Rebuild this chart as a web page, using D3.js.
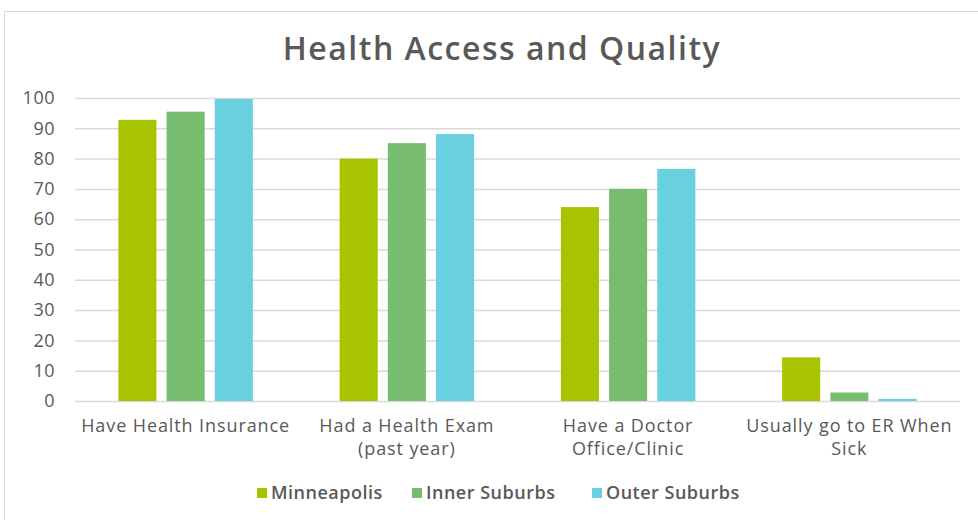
<!DOCTYPE html>
<html>
<head>
<meta charset="utf-8">
<script src="https://cdn.jsdelivr.net/npm/d3@7"></script>
<style>
  body { margin: 0; background: #fff; }
  text { font-family: "Open Sans", sans-serif; fill: #595959; }
</style>
</head>
<body>
<div id="chart"></div>
<script>
// values
const categories = [["Have Health Insurance"], ["Had a Health Exam", "(past year)"], ["Have a Doctor", "Office/Clinic"], ["Usually go to ER When", "Sick"]];
const seriesNames = ["Minneapolis", "Inner Suburbs", "Outer Suburbs"];
const minneapolis = [92.8, 80.0, 64.0, 14.4];
const innerSuburbs = [95.5, 85.1, 70.0, 2.8];
const outerSuburbs = [99.7, 88.1, 76.6, 0.7];
const colors = ["#a8c400", "#78bd6f", "#69d0e0"];
const yTicks = [0, 10, 20, 30, 40, 50, 60, 70, 80, 90, 100];

const width = 978, height = 520;
const margin = {top: 98, right: 18, bottom: 119, left: 75};
const series = [minneapolis, innerSuburbs, outerSuburbs];

const svg = d3.select("#chart").append("svg")
    .attr("width", width)
    .attr("height", height);

// chart frame
svg.append("rect")
    .attr("x", 4.5).attr("y", 11.5)
    .attr("width", width + 10).attr("height", height)
    .attr("fill", "none")
    .attr("stroke", "#d9d9d9");

svg.append("text")
    .attr("x", 502).attr("y", 60)
    .attr("text-anchor", "middle")
    .style("font-size", "32px")
    .style("font-weight", 600)
    .style("letter-spacing", "1.5px")
    .text("Health Access and Quality");

const x0 = d3.scaleBand()
    .domain(d3.range(categories.length))
    .range([margin.left, width - margin.right]);

const x1 = d3.scaleBand()
    .domain(d3.range(seriesNames.length))
    .range([0, x0.bandwidth()])
    .paddingInner(0.21)
    .paddingOuter(0.9);

const y = d3.scaleLinear()
    .domain([0, 100])
    .range([height - margin.bottom, margin.top]);

// gridlines + y labels
const yAxis = svg.append("g")
    .attr("transform", `translate(${margin.left},0)`)
    .call(d3.axisLeft(y).tickValues(yTicks).tickSize(-(width - margin.right - margin.left)).tickPadding(20));
yAxis.select(".domain").remove();
yAxis.selectAll(".tick line").attr("stroke", "#d9d9d9").attr("stroke-width", 1.5);
yAxis.selectAll(".tick text")
    .style("font-size", "18px")
    .style("letter-spacing", "0.5px")
    .style("font-family", "'Open Sans', sans-serif")
    .attr("fill", "#595959");

// bars
const groups = svg.append("g")
    .selectAll("g")
    .data(categories)
    .join("g")
    .attr("transform", (d, i) => `translate(${x0(i)},0)`);

groups.selectAll("rect")
    .data((d, i) => series.map((s, j) => ({j, v: s[i]})))
    .join("rect")
    .attr("x", d => x1(d.j))
    .attr("width", x1.bandwidth())
    .attr("y", d => y(d.v))
    .attr("height", d => y(0) - y(d.v))
    .attr("fill", d => colors[d.j]);

// category labels
groups.append("text")
    .attr("x", x0.bandwidth() / 2)
    .attr("text-anchor", "middle")
    .style("font-size", "18px")
    .style("letter-spacing", "0.9px")
    .selectAll("tspan")
    .data(d => d)
    .join("tspan")
    .attr("x", x0.bandwidth() / 2)
    .attr("y", (d, i) => 432 + i * 23)
    .text(d => d);

// legend
const legendX = [257, 412, 592];
const legend = svg.append("g")
    .selectAll("g")
    .data(seriesNames)
    .join("g")
    .attr("transform", (d, i) => `translate(${legendX[i]},488)`);
legend.append("rect")
    .attr("width", 10).attr("height", 10)
    .attr("fill", (d, i) => colors[i]);
legend.append("text")
    .attr("x", 14).attr("y", 11)
    .style("font-size", "18px")
    .style("font-weight", 600)
    .style("letter-spacing", "0.5px")
    .text(d => d);
</script>
</body>
</html>
